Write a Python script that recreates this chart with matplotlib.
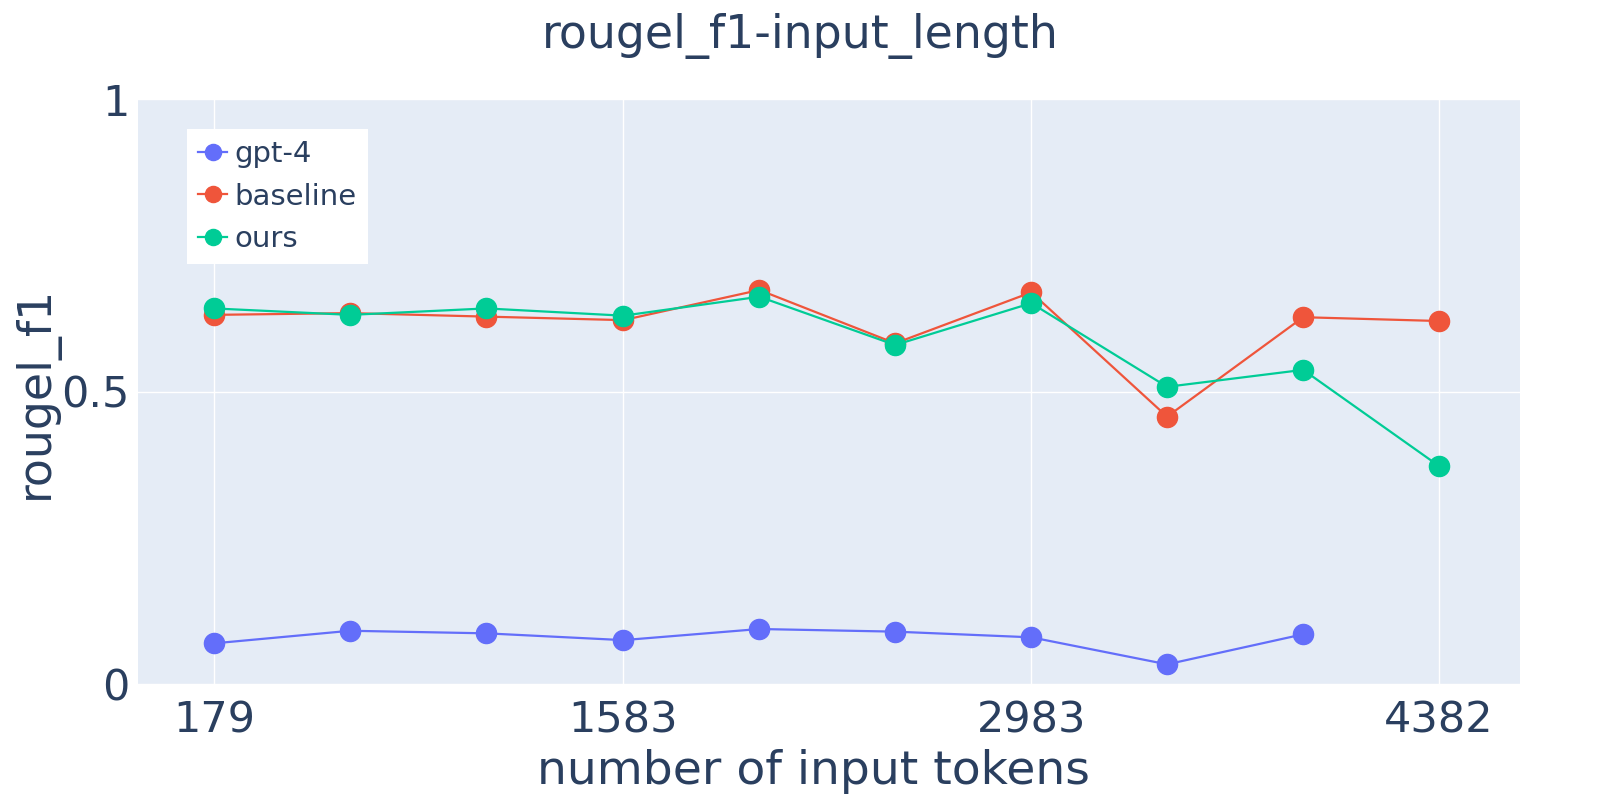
import matplotlib
matplotlib.use("Agg")
import matplotlib.pyplot as plt

x_tokens = [179, 646, 1113, 1583, 2050, 2516, 2983, 3449, 3916, 4382]
gpt4 = [0.0695, 0.091, 0.0866, 0.075, 0.094, 0.0895, 0.0798, 0.0336, 0.085]
baseline = [0.631, 0.634, 0.628, 0.622, 0.6735, 0.5824, 0.6695, 0.457, 0.627, 0.6205]
ours = [0.642, 0.631, 0.642, 0.6296, 0.662, 0.5795, 0.651, 0.508, 0.537, 0.3726]
x_ticks = [179, 1583, 2983, 4382]
y_ticks = [0, 0.5, 1]
y_tick_labels = ["0", "0.5", "1"]

TEXT = "#2a3f5f"
plt.rcParams['font.family'] = ['DejaVu Sans']

W, H = 1600, 800
fig = plt.figure(figsize=(16, 8), dpi=100)
ax = fig.add_axes([138/W, 1-684/H, (1520-138)/W, (684-99)/H])
ax.set_facecolor("#E5ECF6")
for s in ax.spines.values():
    s.set_visible(False)

ax.plot(x_tokens[:len(gpt4)], gpt4, color="#636efa", marker="o", markersize=14.5, lw=1.6, label="gpt-4", zorder=3)
ax.plot(x_tokens, baseline, color="#EF553B", marker="o", markersize=14.5, lw=1.6, label="baseline", zorder=3)
ax.plot(x_tokens, ours, color="#00cc96", marker="o", markersize=14.5, lw=1.6, label="ours", zorder=4)

ax.set_xlim(-82, 4660)
ax.set_ylim(0, 1)
ax.set_xticks(x_ticks)
ax.set_xticklabels([str(v) for v in x_ticks])
ax.set_yticks(y_ticks)
ax.set_yticklabels(y_tick_labels)
ax.grid(True, color="white", lw=1.0, zorder=0)
ax.set_axisbelow(True)
ax.tick_params(length=0, labelsize=31, colors=TEXT)
ax.tick_params(axis='x', pad=11)
ax.tick_params(axis='y', pad=6)

fig.text(813/W, 1-772/H, "number of input tokens", fontsize=34, color=TEXT, ha="center", va="center")
fig.text(36/W, 1-392/H, "rougel_f1", fontsize=33, color=TEXT, ha="center", va="center", rotation=90)
fig.text(800/W, 1-36/H, "rougel_f1-input_length", fontsize=33, color=TEXT, ha="center", va="center")

leg = ax.legend(loc="upper left", bbox_to_anchor=((187-138)/1382, 1-(129-99)/585), fontsize=21,
                frameon=True, fancybox=False, framealpha=1, edgecolor="white",
                handlelength=1.0, handletextpad=0.25, borderpad=0.38, labelspacing=0.5,
                borderaxespad=0, markerscale=0.8)
leg.get_frame().set_linewidth(0)
for t in leg.get_texts():
    t.set_color(TEXT)

fig.savefig("out.png", dpi=100, facecolor="white")
